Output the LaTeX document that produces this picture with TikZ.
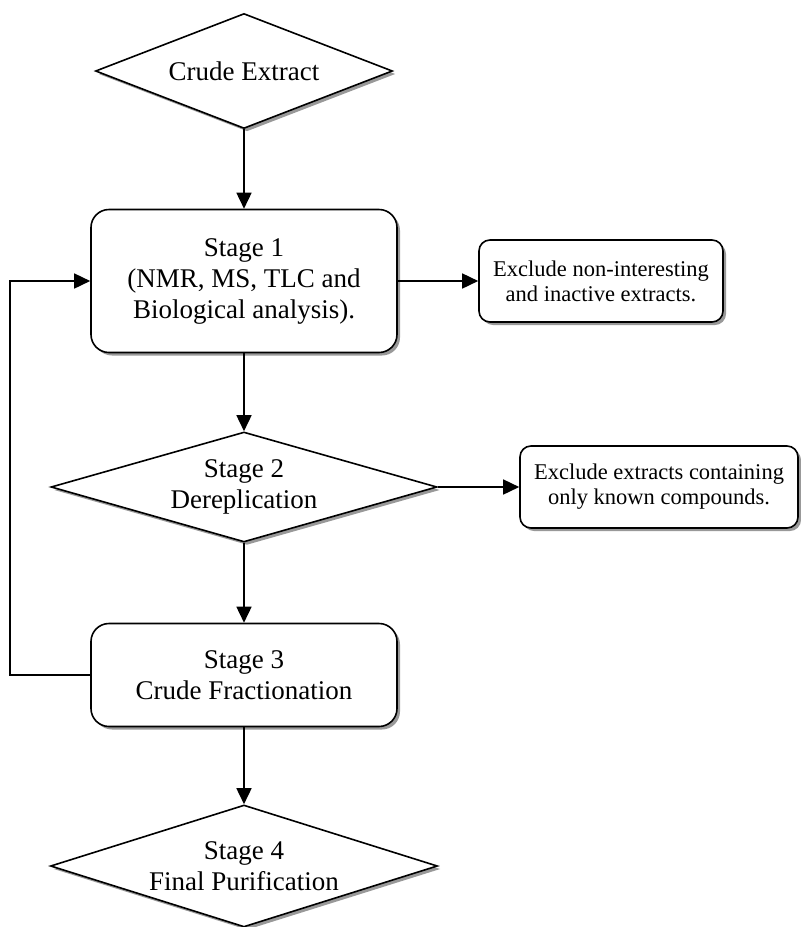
\documentclass[tikz,border=0pt]{standalone}
\usepackage{fontspec}
\setmainfont{Liberation Serif}
\usetikzlibrary{shapes.geometric,shadows,arrows.meta}

\tikzset{
  shade/.style={drop shadow={shadow xshift=3pt, shadow yshift=-3pt, fill=black, opacity=0.4}},
  stagebox/.style={draw, fill=white, line width=1.6pt, rounded corners=18pt, shade,
    inner sep=0pt, align=center, font=\fontsize{27}{31}\selectfont},
  notebox/.style={draw, fill=white, line width=1.6pt, rounded corners=11pt, shade,
    inner sep=0pt, align=center, font=\fontsize{22.5}{25}\selectfont},
  decision/.style={draw, diamond, fill=white, line width=1.6pt, shade,
    inner sep=0pt, align=center, font=\fontsize{27}{31}\selectfont},
  flow/.style={-{Triangle[length=16pt,width=15pt]}, line width=1.6pt}
}

\begin{document}
\begin{tikzpicture}[x=1pt,y=-1pt]
  \useasboundingbox (0,0) rectangle (801,927);

  % main column
  \node[decision, minimum width=297pt, minimum height=115pt, aspect=2.6]
    (extract) at (244,71) {Crude Extract};
  \node[stagebox, minimum width=306pt, minimum height=143pt]
    (stage1) at (244,281) {Stage 1\\(NMR, MS, TLC and\\Biological analysis).};
  \node[decision, minimum width=386pt, minimum height=110pt, aspect=3.5]
    (stage2) at (244,487) {Stage 2\\Dereplication};
  \node[stagebox, minimum width=306pt, minimum height=103pt]
    (stage3) at (244,675) {Stage 3\\Crude Fractionation};
  \node[decision, minimum width=387pt, minimum height=122pt, aspect=3.17]
    (stage4) at (244,866) {Stage 4\\Final Purification};

  % side notes
  \node[notebox, minimum width=244pt, minimum height=82pt]
    (note1) at (601,281) {Exclude non-interesting\\and inactive extracts.};
  \node[notebox, minimum width=278pt, minimum height=82pt]
    (note2) at (659,487) {Exclude extracts containing\\only known compounds.};

  \foreach \a/\b in {extract/stage1, stage1/stage2, stage2/stage3, stage3/stage4,
                     stage1/note1, stage2/note2}
  {
    \draw[flow] (\a) -- (\b);
  };

  % loop back from stage 3
  \coordinate (back) at (10,0);
  \draw[flow] (stage3.west) -- (stage3.west -| back) |- (stage1.west);
\end{tikzpicture}
\end{document}
